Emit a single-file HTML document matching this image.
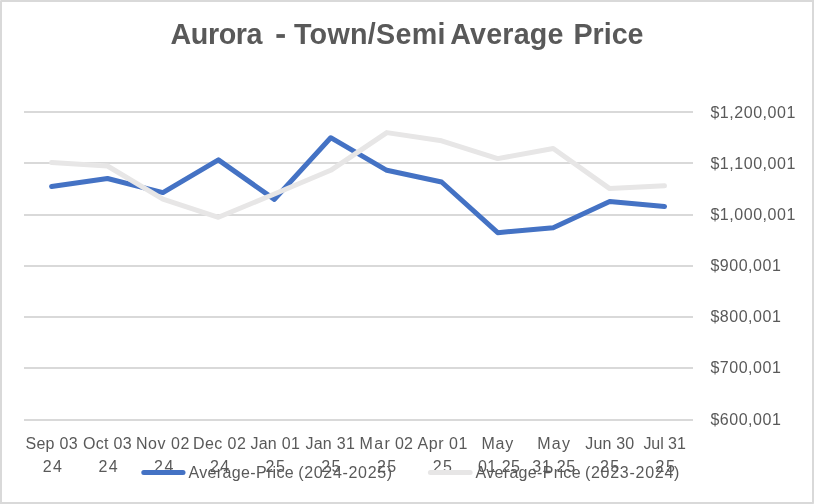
<!DOCTYPE html>
<html>
<head>
<meta charset="utf-8">
<title>Aurora - Town/Semi Average Price</title>
<style>
  html, body { margin: 0; padding: 0; background: #ffffff; }
  body { width: 814px; height: 504px; overflow: hidden; font-family: "Liberation Sans", sans-serif; }
  svg { display: block; will-change: transform; }
  text { font-family: "Liberation Sans", sans-serif; fill: #595959; }
  .title { font-size: 28.7px; font-weight: bold; font-kerning: normal; }
  .lbl { font-size: 16px; }
</style>
</head>
<body>
<svg width="814" height="504" viewBox="0 0 814 504">
  <!-- chart border -->
  <rect x="1" y="1" width="812" height="502" fill="none" stroke="#d9d9d9" stroke-width="2"/>

  <rect x="0" y="0" width="1" height="1" fill="#e4e4e4"/><rect x="813" y="503" width="1" height="1" fill="#e0e0e0"/>

  <!-- title -->
  <text class="title" y="0" transform="translate(0,43.7) scale(1,1.04)"><tspan x="170.5" letter-spacing="-0.42">Aurora</tspan><tspan x="293.9" letter-spacing="0.3">Town/Semi</tspan><tspan x="450.2" letter-spacing="0.18">Average</tspan><tspan x="573.4">Price</tspan></text>
  <rect x="276.4" y="34.1" width="8.5" height="3.8" fill="#595959"/>

  <!-- gridlines -->
  <g fill="#d9d9d9">
    <rect x="24" y="111" width="669" height="2"/>
    <rect x="24" y="162" width="669" height="2"/>
    <rect x="24" y="214" width="669" height="2"/>
    <rect x="24" y="265" width="669" height="2"/>
    <rect x="24" y="316" width="669" height="2"/>
    <rect x="24" y="367" width="669" height="2"/>
    <rect x="24" y="419" width="669" height="2"/>
  </g>

  <!-- y axis labels -->
  <g class="lbl">
    <text x="710.4" y="117.6" textLength="85" lengthAdjust="spacing">$1,200,001</text>
    <text x="710.4" y="168.8" textLength="85" lengthAdjust="spacing">$1,100,001</text>
    <text x="710.4" y="219.9" textLength="85" lengthAdjust="spacing">$1,000,001</text>
    <text x="710.4" y="271.0" textLength="70.4" lengthAdjust="spacing">$900,001</text>
    <text x="710.4" y="322.2" textLength="70.4" lengthAdjust="spacing">$800,001</text>
    <text x="710.4" y="373.4" textLength="70.4" lengthAdjust="spacing">$700,001</text>
    <text x="710.4" y="424.6" textLength="70.4" lengthAdjust="spacing">$600,001</text>
  </g>

  <!-- x axis labels -->
  <g class="lbl" text-anchor="middle" letter-spacing="0.3">
    <text x="51.7" y="448.9">Sep 03</text><text x="53.0" y="472.3" letter-spacing="1.4">24</text>
    <text x="107.4" y="448.9">Oct 03</text><text x="108.7" y="472.3" letter-spacing="1.4">24</text>
    <text x="163.0" y="448.9" letter-spacing="0.55">Nov 02</text><text x="164.4" y="472.3" letter-spacing="1.4">24</text>
    <text x="219.6" y="448.9" letter-spacing="0.45">Dec 02</text><text x="220.2" y="472.3" letter-spacing="1.4">24</text>
    <text x="275.3" y="448.9">Jan 01</text><text x="275.9" y="472.3" letter-spacing="1.4">25</text>
    <text x="330.3" y="448.9">Jan 31</text><text x="331.6" y="472.3" letter-spacing="1.4">25</text>
    <text y="448.9" text-anchor="start"><tspan x="359.6" letter-spacing="1.3">Mar</tspan><tspan x="395" letter-spacing="0.2">02</tspan></text><text x="387.3" y="472.3" letter-spacing="1.4">25</text>
    <text x="442.8" y="448.9" letter-spacing="0.55">Apr 01</text><text x="443.0" y="472.3" letter-spacing="1.4">25</text>
    <text x="497.8" y="448.9" letter-spacing="0.8">May</text><text x="499.2" y="472.3" letter-spacing="0.5">01 25</text>
    <text x="554.2" y="448.9" letter-spacing="1.2">May</text><text x="554.1" y="472.3" letter-spacing="0.7">31 25</text>
    <text x="609.8" y="448.9" letter-spacing="0.15">Jun 30</text><text x="610.2" y="472.3" letter-spacing="1.4">25</text>
    <text x="664.6" y="448.9" letter-spacing="-0.05">Jul 31</text><text x="665.9" y="472.3" letter-spacing="1.4">25</text>
  </g>

  <!-- series -->
  <g fill="none" stroke-width="5" stroke-linecap="round" stroke-linejoin="round">
    <polyline stroke="#4472c4" points="51.6,186.4 107.5,178.5 162.9,192.6 218.4,159.9 274.4,199.4 330.7,137.7 386.8,170.3 441.6,182 497.7,232.7 553.2,227.7 609.7,201.6 664.5,206.5"/>
    <polyline stroke="#e7e6e6" points="51.6,162.6 107.5,166.0 162.9,199.2 218.4,217.3 274.4,194 330.7,170.3 386.8,132.6 441.6,140.8 497.7,158.6 553.2,148.5 609.7,188.6 664.5,185.8"/>
  </g>

  <!-- legend -->
  <g fill="none" stroke-width="5" stroke-linecap="round">
    <line x1="143.8" y1="472.4" x2="183" y2="472.4" stroke="#4472c4"/>
    <line x1="430.4" y1="472.4" x2="470.1" y2="472.4" stroke="#e7e6e6"/>
  </g>
  <g class="lbl">
    <text y="478.2"><tspan x="188.5" textLength="105.2" lengthAdjust="spacing">Average-Price</tspan><tspan x="298.2" textLength="94" lengthAdjust="spacing">(2024-2025)</tspan></text>
    <text y="478.2"><tspan x="475.4" textLength="105.2" lengthAdjust="spacing">Average-Price</tspan><tspan x="584.9" textLength="94.5" lengthAdjust="spacing">(2023-2024)</tspan></text>
  </g>
</svg>
</body>
</html>
